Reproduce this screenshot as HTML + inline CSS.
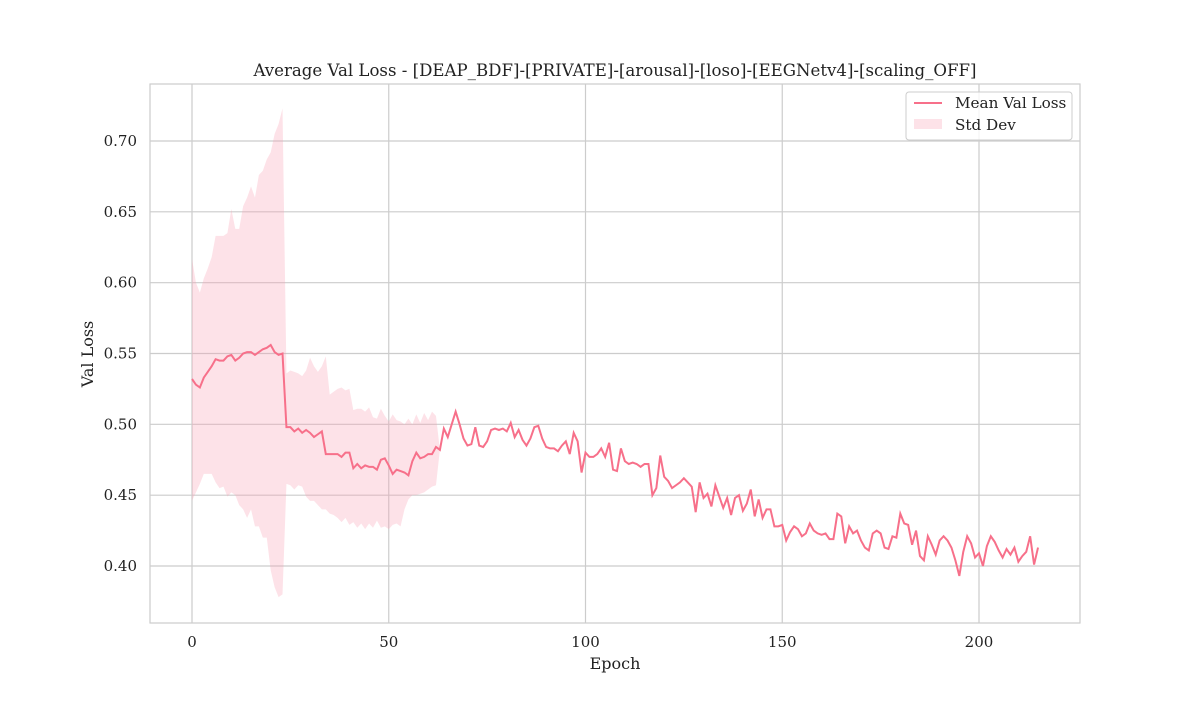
<!DOCTYPE html>
<html><head><meta charset="utf-8"><style>
body{margin:0;background:#fff;font-family:"DejaVu Serif","Liberation Serif",serif}
svg text{font-family:"DejaVu Serif","Liberation Serif",serif;fill:#222}
</style></head><body>
<svg id="chart" width="1200" height="700" xmlns="http://www.w3.org/2000/svg">
<rect width="1200" height="700" fill="#fff"/>
<g id="grid"></g>
<path id="band" fill="#f7a0b2" fill-opacity="0.3" stroke="none"/>
<path id="line" fill="none" stroke="#f7708a" stroke-width="2"/>
<rect x="150" y="84" width="930" height="539" fill="none" stroke="#ccc" stroke-width="1.2"/>
<g id="ticks"></g>
<text x="615" y="76" text-anchor="middle" font-size="16.6">Average Val Loss - [DEAP_BDF]-[PRIVATE]-[arousal]-[loso]-[EEGNetv4]-[scaling_OFF]</text>
<text x="615" y="669" text-anchor="middle" font-size="16">Epoch</text>
<text transform="translate(93,354) rotate(-90)" text-anchor="middle" font-size="16">Val Loss</text>
<g>
<rect x="906" y="92" width="166" height="48" rx="3" fill="#fff" fill-opacity="0.8" stroke="#ccc"/>
<line x1="914" y1="103" x2="942" y2="103" stroke="#f7708a" stroke-width="2"/>
<text x="955" y="108" font-size="15.2">Mean Val Loss</text>
<rect x="914" y="119" width="28" height="10" fill="#f7a0b2" fill-opacity="0.3"/>
<text x="955" y="130" font-size="15.2">Std Dev</text>
</g>
</svg>
<script>
const meanLoss=[0.532,0.528,0.526,0.533,0.537,0.541,0.546,0.545,0.545,0.548,0.549,0.545,0.547,0.550,0.551,0.551,0.549,0.551,0.553,0.554,0.556,0.551,0.549,0.550,
0.498,0.498,0.495,0.497,0.494,0.496,0.494,0.491,0.493,0.495,0.479,0.479,0.479,0.479,0.477,0.480,0.480,
0.469,0.472,0.469,0.471,0.470,0.470,0.468,0.475,0.476,0.471,0.465,0.468,0.467,0.466,0.464,0.474,0.480,0.476,0.477,0.479,0.479,0.484,0.482,
0.497,0.491,0.500,0.509,0.500,0.490,0.485,0.486,0.498,0.485,0.484,0.488,0.496,0.497,0.496,0.497,0.495,0.501,0.491,0.496,0.489,0.485,0.490,0.498,0.499,0.490,0.484,0.483,0.483,0.481,0.485,0.488,0.479,0.494,0.488,0.466,0.480,
0.477,0.477,0.479,0.483,0.477,0.487,0.468,0.467,0.483,0.474,0.472,0.473,0.472,0.470,0.472,0.472,0.450,0.455,0.478,0.463,0.460,0.455,0.457,0.459,0.462,0.459,0.456,0.438,0.459,0.448,0.451,0.442,0.457,0.449,0.441,0.448,0.436,0.448,0.450,0.439,0.444,0.454,0.435,0.447,0.434,0.440,0.440,0.428,0.428,0.429,
0.418,0.424,0.428,0.426,0.421,0.423,0.430,0.425,0.423,0.422,0.423,0.419,0.419,0.437,0.435,0.416,0.428,0.423,0.425,0.418,0.413,0.411,0.423,0.425,0.423,0.413,0.412,0.421,0.420,0.437,0.430,0.429,0.415,0.425,0.407,0.404,0.421,0.415,0.408,0.418,0.421,0.418,0.413,0.404,0.393,0.410,0.421,0.416,0.406,0.409,0.400,0.414,0.421,0.417,0.411,0.406,0.412,0.408,0.413,0.403,0.407,0.410,0.421,0.401,0.413];
const bandUpper=[0.617,0.600,0.593,0.603,0.610,0.618,0.633,0.633,0.633,0.635,0.652,0.638,0.638,0.654,0.660,0.668,0.660,0.676,0.679,0.687,0.692,0.705,0.712,0.723,
0.536,0.538,0.537,0.536,0.534,0.538,0.547,0.541,0.537,0.541,0.548,0.521,0.523,0.525,0.526,0.524,0.525,0.510,0.511,0.511,0.509,0.512,0.505,0.504,0.511,0.506,0.502,0.507,0.503,0.502,0.500,0.504,0.500,0.507,0.501,0.508,0.503,0.509,0.506];
const bandLower=[0.446,0.452,0.458,0.465,0.465,0.465,0.459,0.455,0.456,0.449,0.452,0.450,0.443,0.440,0.434,0.440,0.428,0.428,0.420,0.420,0.397,0.385,0.378,0.380,
0.458,0.457,0.454,0.457,0.456,0.449,0.446,0.446,0.443,0.440,0.440,0.437,0.436,0.434,0.431,0.434,0.429,0.431,0.427,0.430,0.426,0.430,0.427,0.432,0.427,0.428,0.426,0.429,0.430,0.428,0.440,0.447,0.450,0.450,0.451,0.452,0.454,0.456,0.457];
const xTicks=[0,50,100,150,200];
const yTicks=[0.40,0.45,0.50,0.55,0.60,0.65,0.70];
const X=e=>192+(e)*(787/200);
const Y=v=>566-(v-0.40)*(425/0.30);
const NS="http://www.w3.org/2000/svg";
const grid=document.getElementById('grid'),ticks=document.getElementById('ticks');
xTicks.forEach(t=>{
 const l=document.createElementNS(NS,'line');
 l.setAttribute('x1',X(t));l.setAttribute('x2',X(t));l.setAttribute('y1',84);l.setAttribute('y2',623);
 l.setAttribute('stroke','#ccc');l.setAttribute('stroke-width','1.2');
 
 
 grid.appendChild(l);
 const tx=document.createElementNS(NS,'text');
 tx.setAttribute('x',X(t));tx.setAttribute('y',647);tx.setAttribute('text-anchor','middle');tx.setAttribute('font-size','15');
 tx.textContent=t;
 
 
 ticks.appendChild(tx);
});
yTicks.forEach(t=>{
 const l=document.createElementNS(NS,'line');
 l.setAttribute('x1',150);l.setAttribute('x2',1080);l.setAttribute('y1',Y(t));l.setAttribute('y2',Y(t));
 l.setAttribute('stroke','#ccc');l.setAttribute('stroke-width','1.2');
 
 
 grid.appendChild(l);
 const tx=document.createElementNS(NS,'text');
 tx.setAttribute('x',137);tx.setAttribute('y',Y(t)+5);tx.setAttribute('text-anchor','end');tx.setAttribute('font-size','15');
 tx.textContent=t.toFixed(2);
 
 
 ticks.appendChild(tx);
});
const n=Math.min(bandUpper.length,bandLower.length);
let d='M'+bandUpper.slice(0,n).map((v,i)=>X(i)+','+Y(v)).join(' L');
for(let i=n;i<meanLoss.length;i++)d+=' L'+X(i)+','+Y(meanLoss[i]);
for(let i=meanLoss.length-1;i>=n;i--)d+=' L'+X(i)+','+Y(meanLoss[i]);
for(let i=n-1;i>=0;i--)d+=' L'+X(i)+','+Y(bandLower[i]);
document.getElementById('band').setAttribute('d',d+' Z');
document.getElementById('line').setAttribute('d','M'+meanLoss.map((v,i)=>X(i)+','+Y(v)).join(' L'));
</script>
</body></html>
